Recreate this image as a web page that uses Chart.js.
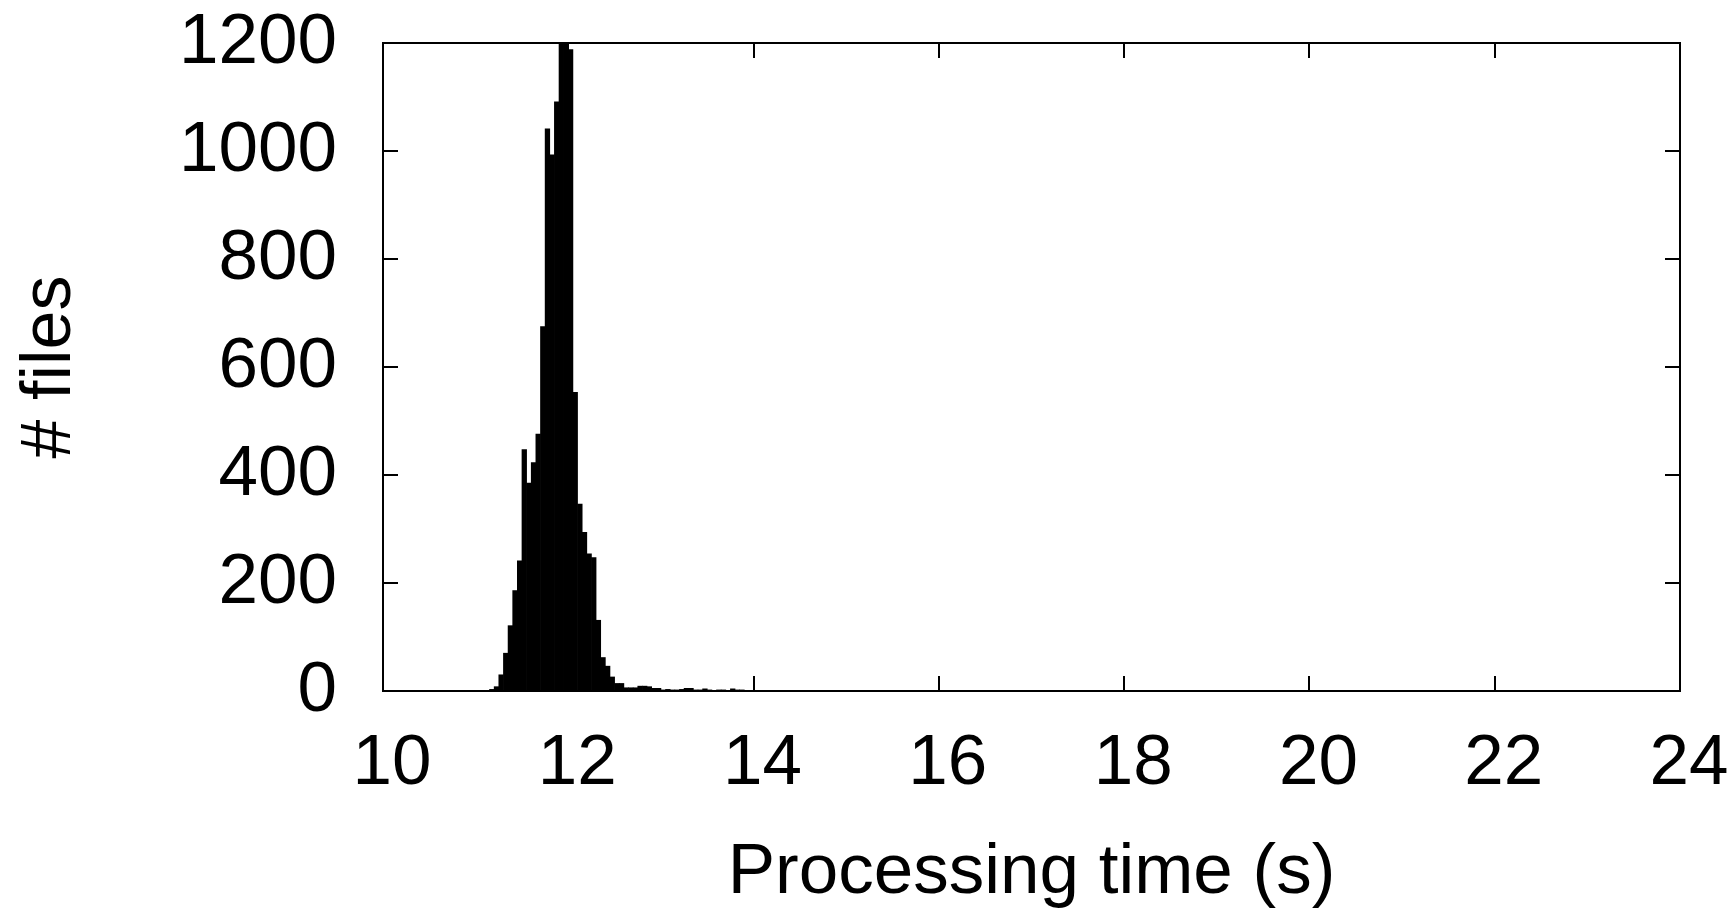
<!DOCTYPE html>
<html>
<head>
<meta charset="utf-8">
<title>Processing time histogram</title>
<script src="https://cdn.jsdelivr.net/npm/chart.js@4.4.1/dist/chart.umd.min.js"></script>
<style>
  html, body { margin: 0; padding: 0; background: #fff; }
</style>
</head>
<body>
<canvas id="histChart" width="1736" height="909"></canvas>
<script>
// histogram bins (lower edge, seconds) and number of files in each
const binStarts = [
    11.15, 11.20, 11.25, 11.30, 11.35, 11.40, 11.45, 11.50, 11.55, 11.60,
    11.65, 11.70, 11.75, 11.80, 11.85, 11.90, 11.95, 12.00, 12.05, 12.10,
    12.15, 12.20, 12.25, 12.30, 12.35, 12.40, 12.45, 12.50, 12.55, 12.60,
    12.65, 12.70, 12.75, 12.80, 12.85, 12.90, 12.95, 13.00, 13.05, 13.10,
    13.15, 13.20, 13.25, 13.30, 13.35, 13.40, 13.45, 13.50, 13.55, 13.60,
    13.65, 13.70, 13.75, 13.80, 13.85, 13.90,
    14.10, 14.30, 14.60, 14.85, 15.10, 15.50, 15.95, 16.30, 16.70, 17.10,
    17.50, 18.55, 18.90, 20.50, 21.40, 23.00
];
const fileCounts = [
    3, 8, 30, 70, 121, 186, 241, 447, 385, 423,
    476, 675, 1041, 993, 1091, 1200, 1200, 1188, 553, 346,
    294, 254, 247, 131, 62, 46, 26, 14, 14, 6,
    6, 6, 9, 9, 8, 5, 5, 2, 3, 2,
    2, 3, 5, 5, 2, 2, 4, 2, 1, 2,
    2, 1, 4, 2, 2, 1,
    1, 1, 1, 1, 1, 1, 1, 1, 1, 1,
    1, 1, 1, 1, 1, 1
];
const binWidth = 0.05;
const xTicks = [10, 12, 14, 16, 18, 20, 22, 24];
const yTicks = [0, 200, 400, 600, 800, 1000, 1200];

const fontFamily = "'Liberation Sans', Arial, Helvetica, sans-serif";

// gnuplot style border with inward ticks on all four sides
const framePlugin = {
    id: "gnuplotFrame",
    afterDatasetsDraw(chart) {
        const { ctx, chartArea: a, scales } = chart;
        const tick = 15;
        ctx.save();
        ctx.strokeStyle = "#000";
        ctx.lineWidth = 2;
        ctx.beginPath();
        xTicks.forEach(v => {
            const px = Math.round(scales.x.getPixelForValue(v));
            ctx.moveTo(px, a.bottom);
            ctx.lineTo(px, a.bottom - tick);
            ctx.moveTo(px, a.top);
            ctx.lineTo(px, a.top + tick);
        });
        yTicks.forEach(v => {
            const py = Math.round(scales.y.getPixelForValue(v));
            ctx.moveTo(a.left, py);
            ctx.lineTo(a.left + tick, py);
            ctx.moveTo(a.right, py);
            ctx.lineTo(a.right - tick, py);
        });
        ctx.stroke();
        ctx.strokeRect(a.left, a.top, a.right - a.left, a.bottom - a.top);
        ctx.restore();
    }
};

const points = binStarts.map((s, i) => ({ x: s + binWidth / 2, y: fileCounts[i] }));

const ctx = document.getElementById("histChart").getContext("2d");
new Chart(ctx, {
    type: "bar",
    data: {
        datasets: [{
            label: "# files",
            data: points,
            backgroundColor: "#000",
            borderWidth: 0,
            barPercentage: 1,
            categoryPercentage: 1,
        }]
    },
    options: {
        responsive: false,
        animation: false,
        layout: {
            padding: { top: 43, right: 56, bottom: 0, left: 0 },
        },
        plugins: {
            legend: { display: false },
            tooltip: { enabled: false },
        },
        scales: {
            x: {
                type: "linear",
                offset: false,
                min: 10,
                max: 24,
                // fixed box, and no extra room asked for the end labels
                afterFit: s => {
                    s.height = 218;
                    s.paddingLeft = 0;
                    s.paddingRight = 0;
                },
                grid: { display: false, drawTicks: false },
                border: { display: false },
                ticks: {
                    stepSize: 2,
                    padding: 38,
                    labelOffset: 9,
                    color: "#000",
                    maxRotation: 0,
                    callback: v => String(v),
                    font: { family: fontFamily, size: 71, lineHeight: 1 },
                },
                title: {
                    display: true,
                    text: "Processing time (s)",
                    color: "#000",
                    padding: { top: 0, bottom: 0 },
                    font: { family: fontFamily, size: 71, lineHeight: 1 },
                },
            },
            y: {
                min: 0,
                max: 1200,
                afterFit: s => {
                    s.width = 383;
                    s.paddingTop = 0;
                    s.paddingBottom = 0;
                },
                grid: { display: false, drawTicks: false },
                border: { display: false },
                ticks: {
                    stepSize: 200,
                    padding: 46,
                    color: "#000",
                    callback: v => String(v),
                    font: { family: fontFamily, size: 71, lineHeight: 1 },
                },
                title: {
                    display: true,
                    text: "# files",
                    color: "#000",
                    padding: { top: 16, bottom: 0 },
                    font: { family: fontFamily, size: 70, lineHeight: 1 },
                },
            },
        },
    },
    plugins: [framePlugin],
});
</script>
</body>
</html>
